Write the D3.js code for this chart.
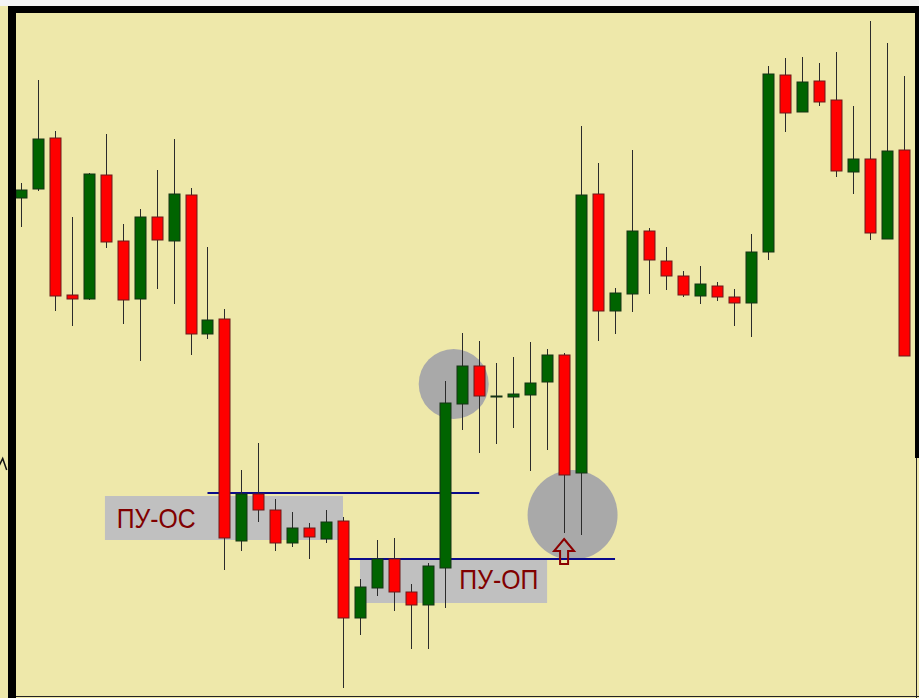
<!DOCTYPE html>
<html>
<head>
<meta charset="utf-8">
<script src="https://cdn.jsdelivr.net/npm/d3@7"></script>
<style>
	body { margin: 0; background: #f2f2f2; }
	svg { display: block; }
	.label { font-family: "Liberation Sans", Arial, sans-serif; fill: #800000; }
</style>
</head>
<body>
<div id="vizCont"></div>
<script>
// candles, left to right (price in points)
const opens  = [502,511,562,405,401,525,459,401,483,459,505,366,381,159,206,190,157,172,161,179,82,112,141,108,95,132,296,334,304,303,305,318,345,227,506,389,406,469,439,424,404,414,403,397,448,625,588,619,600,528,541,461,550];
const highs  = [517,620,569,483,527,566,476,491,530,561,512,453,391,230,257,201,188,177,190,183,121,160,162,116,137,319,367,359,337,343,358,351,347,574,537,412,550,472,453,429,434,418,411,466,634,642,643,637,648,594,679,657,624];
const lows   = [473,509,389,374,400,452,376,339,411,396,345,361,130,149,178,149,153,141,157,12,65,104,89,51,51,92,270,247,256,272,229,250,167,165,359,366,388,406,410,403,396,399,374,363,440,568,588,594,523,506,460,461,344];
const closes = [510,561,404,401,526,458,400,483,460,506,366,380,162,206,190,157,172,163,178,82,113,141,108,95,134,297,334,304,304,306,317,345,225,505,389,407,469,440,424,405,416,403,397,448,626,587,618,598,529,541,467,549,344];

// annotations (candle index / price)
const levelPrices = [207, 141];
const levelFrom   = [11, 19.3];
const levelTo     = [27, 35];

const boxNames  = ['ПУ-ОС', 'ПУ-ОП'];
const boxFrom   = [4.96, 19.98];
const boxTo     = [18.98, 31];
const boxTop    = [204, 141];
const boxBottom = [160, 97];
const labelIdx  = [5.65, 25.83];
const labelBase = [172, 111];

const circleIdx   = [25.5, 32.5];
const circlePrice = [316, 185];

const arrowIdx = 32;
const arrowTip = 161;
const arrowEnd = 136;

document.addEventListener("DOMContentLoaded", function() {

	const W = 919, H = 698;

	candles = opens.map((o, i) => ({i: i, o: o, h: highs[i], l: lows[i], c: closes[i]}));

	x = d3.scaleLinear()
		.domain([0, candles.length - 1])
		.range([20.7, 903.7]);

	y = d3.scaleLinear()
		.domain([0, 700])
		.range([700, 0]);

	svg = d3.select('#vizCont').append('svg')
		.attr('width', W)
		.attr('height', H);

	svg.append('rect')
		.attr('width', W).attr('height', H)
		.attr('fill', '#eee8aa');

	svg.append('rect')
		.attr('width', W).attr('height', 6)
		.attr('fill', '#f4f4f4');

	// grey boxes
	svg.selectAll('rect.box')
		.data(boxNames)
		.enter()
		.append('rect')
		.attr('class', 'box')
		.attr('x', (d, k) => x(boxFrom[k]))
		.attr('width', (d, k) => x(boxTo[k]) - x(boxFrom[k]))
		.attr('y', (d, k) => y(boxTop[k]))
		.attr('height', (d, k) => y(boxBottom[k]) - y(boxTop[k]))
		.attr('fill', '#c0c0c0');

	// grey circles
	svg.selectAll('circle.spot')
		.data(circleIdx)
		.enter()
		.append('circle')
		.attr('class', 'spot')
		.attr('cx', d => x(d))
		.attr('cy', (d, k) => y(circlePrice[k]))
		.attr('r', (d, k) => k == 0 ? 35 : 45)
		.attr('fill', '#a9a9a9');

	// levels
	svg.selectAll('line.level')
		.data(levelPrices)
		.enter()
		.append('line')
		.attr('class', 'level')
		.attr('x1', (d, k) => x(levelFrom[k]))
		.attr('x2', (d, k) => x(levelTo[k]))
		.attr('y1', d => y(d))
		.attr('y2', d => y(d))
		.attr('stroke', '#0a0a8a')
		.attr('stroke-width', 2);

	svg.selectAll('text.label')
		.data(boxNames)
		.enter()
		.append('text')
		.attr('class', 'label')
		.attr('x', (d, k) => x(labelIdx[k]))
		.attr('y', (d, k) => y(labelBase[k]))
		.attr('font-size', 28)
		.attr('textLength', 79)
		.attr('lengthAdjust', 'spacingAndGlyphs')
		.text(d => d);

	// candles
	g = svg.selectAll('g.candle')
		.data(candles)
		.enter()
		.append('g')
		.attr('class', 'candle');

	g.append('line')
		.attr('x1', d => Math.round(x(d.i)) + 0.5)
		.attr('x2', d => Math.round(x(d.i)) + 0.5)
		.attr('y1', d => y(d.h))
		.attr('y2', d => y(d.l))
		.attr('stroke', '#2b2b2b')
		.attr('stroke-width', 1);

	g.append('rect')
		.attr('x', d => Math.round(x(d.i)) - 5)
		.attr('width', 11)
		.attr('y', d => y(Math.max(d.o, d.c)))
		.attr('height', d => Math.max(1, Math.abs(y(d.o) - y(d.c))))
		.attr('fill', d => d.c > d.o ? '#006400' : (d.c < d.o ? '#ff0000' : '#1a3a1a'))
		.attr('stroke', d => d.c >= d.o ? '#143214' : '#6a1a1a')
		.attr('stroke-width', 1);

	// arrow
	ax = x(arrowIdx), at = y(arrowTip), ab = y(arrowEnd);
	svg.append('path')
		.attr('d', `M${ax},${at} L${ax + 10},${at + 12} L${ax + 4},${at + 12} L${ax + 4},${ab} L${ax - 4},${ab} L${ax - 4},${at + 12} L${ax - 10},${at + 12} Z`)
		.attr('fill', 'none')
		.attr('stroke', '#8b0000')
		.attr('stroke-width', 2);

	// frame
	svg.append('rect')
		.attr('x', 8).attr('y', 6)
		.attr('width', W - 8).attr('height', 7)
		.attr('fill', '#000');

	svg.append('rect')
		.attr('x', 8).attr('y', 6)
		.attr('width', 8).attr('height', H - 6)
		.attr('fill', '#000');

	svg.append('rect')
		.attr('x', 915).attr('y', 6)
		.attr('width', 4).attr('height', 452)
		.attr('fill', '#000');

	svg.append('line')
		.attr('x1', 916.5).attr('x2', 916.5)
		.attr('y1', 458).attr('y2', H)
		.attr('stroke', '#222');

	svg.append('line')
		.attr('x1', 16).attr('x2', W)
		.attr('y1', 696.5).attr('y2', 696.5)
		.attr('stroke', '#222');

	// little caret left of the frame
	svg.append('path')
		.attr('d', 'M-1,466 L2.7,458.5 L6.7,470')
		.attr('fill', 'none')
		.attr('stroke', '#111')
		.attr('stroke-width', 1.5);
});
</script>
</body>
</html>
